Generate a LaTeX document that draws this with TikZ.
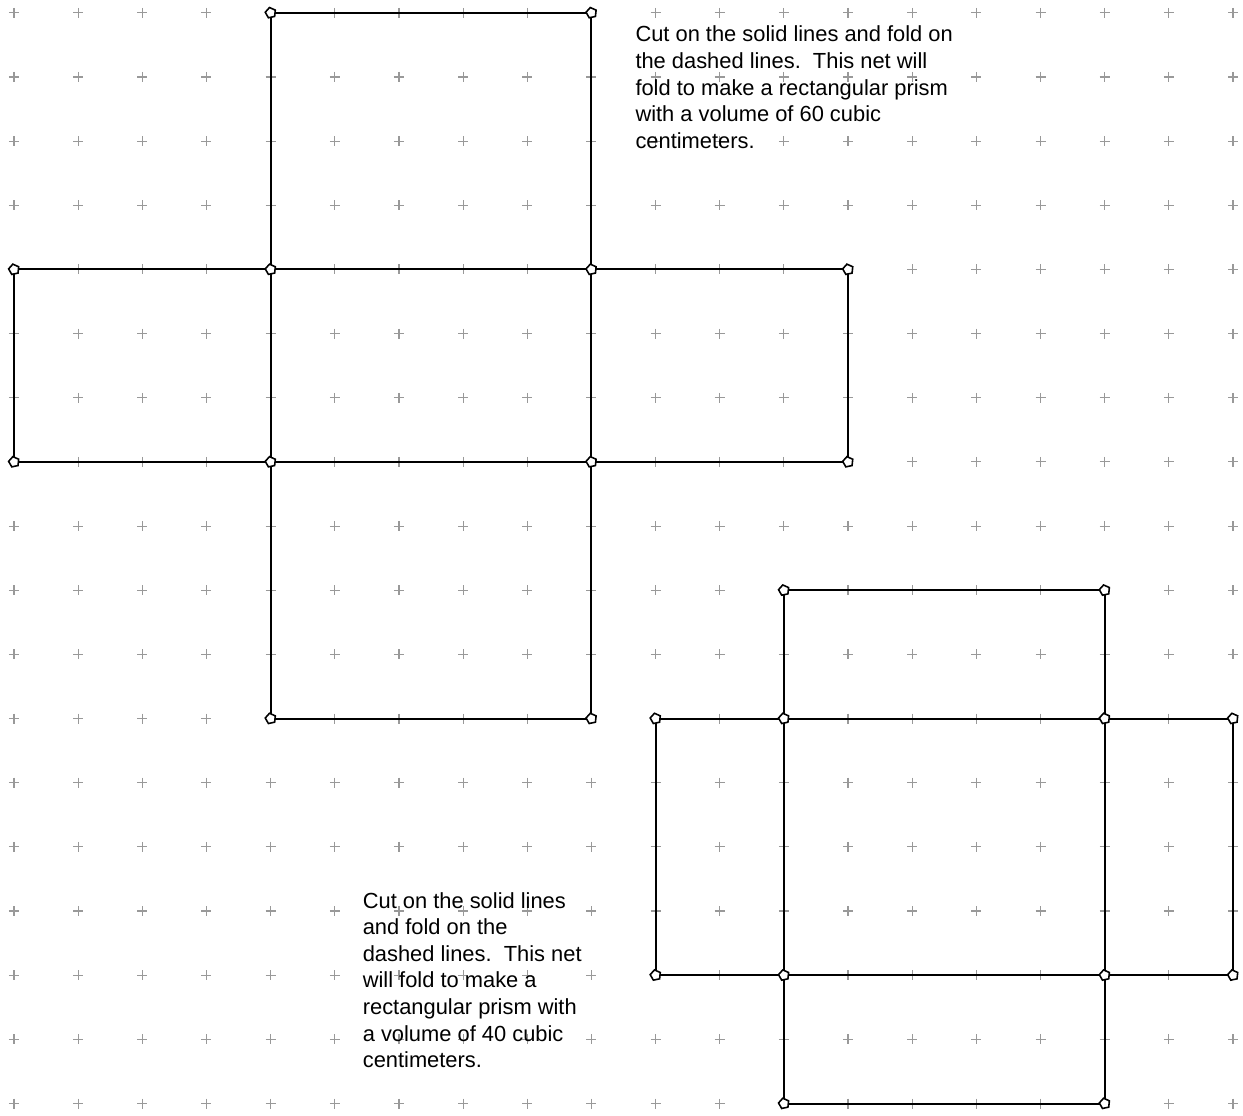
\documentclass[tikz,border=0pt]{standalone}
\usepackage{fontspec}
\setmainfont{Liberation Sans}
\usetikzlibrary{shapes.geometric}

\tikzset{
  pluss/.style={gray!80,line width=0.5pt},
  cutline/.style={line width=0.9pt},
  vtx/.style={regular polygon,regular polygon sides=5,
    shape border rotate=-60,draw,fill=white,line width=0.7pt,
    inner sep=0pt,minimum size=4.8pt},
  note/.style={anchor=north west,inner sep=0pt,align=left,
    font=\fontsize{9.7}{11.8}\selectfont}
}

\begin{document}
\begin{tikzpicture}[y=-1cm]
  \useasboundingbox (-0.218,-0.2) rectangle (19.156,17.19);
  % grid of plus marks
  \foreach \i in {0,...,19}
    \foreach \j in {0,...,17}
      \draw[pluss] (\i-0.078,\j) -- (\i+0.078,\j)
        (\i,\j-0.078) -- (\i,\j+0.078);

  % first net, 60 cubic cm
  \coordinate (p0) at (4,0);   \coordinate (p1) at (9,0);
  \coordinate (p2) at (0,4);   \coordinate (p3) at (4,4);
  \coordinate (p4) at (9,4);   \coordinate (p5) at (13,4);
  \coordinate (p6) at (0,7);   \coordinate (p7) at (4,7);
  \coordinate (p8) at (9,7);   \coordinate (p9) at (13,7);
  \coordinate (p10) at (4,11); \coordinate (p11) at (9,11);
  \draw[cutline] (p0) -- (p1) (p2) -- (p5) (p6) -- (p9) (p10) -- (p11)
    (p0) -- (p10) (p1) -- (p11) (p2) -- (p6) (p5) -- (p9);
  \foreach \v in {0,...,11}
    \node[vtx] at (p\v) {};

  % second net, 40 cubic cm
  \coordinate (q0) at (12,9);   \coordinate (q1) at (17,9);
  \coordinate (q2) at (10,11);  \coordinate (q3) at (12,11);
  \coordinate (q4) at (17,11);  \coordinate (q5) at (19,11);
  \coordinate (q6) at (10,15);  \coordinate (q7) at (12,15);
  \coordinate (q8) at (17,15);  \coordinate (q9) at (19,15);
  \coordinate (q10) at (12,17); \coordinate (q11) at (17,17);
  \draw[cutline] (q0) -- (q1) (q2) -- (q5) (q6) -- (q9) (q10) -- (q11)
    (q0) -- (q10) (q1) -- (q11) (q2) -- (q6) (q5) -- (q9);
  \foreach \v in {0,...,11}
    \node[vtx] at (q\v) {};

  % instructions
  \node[note] (note60) at (9.68,0.2) {Cut on the solid lines and fold on\\
    the dashed lines.\ \ This net will\\
    fold to make a rectangular prism\\
    with a volume of 60 cubic\\
    centimeters.};
  \node[note] (note40) at (5.43,13.7) {Cut on the solid lines\\
    and fold on the\\
    dashed lines.\ \ This net\\
    will fold to make a\\
    rectangular prism with\\
    a volume of 40 cubic\\
    centimeters.};
\end{tikzpicture}
\end{document}
